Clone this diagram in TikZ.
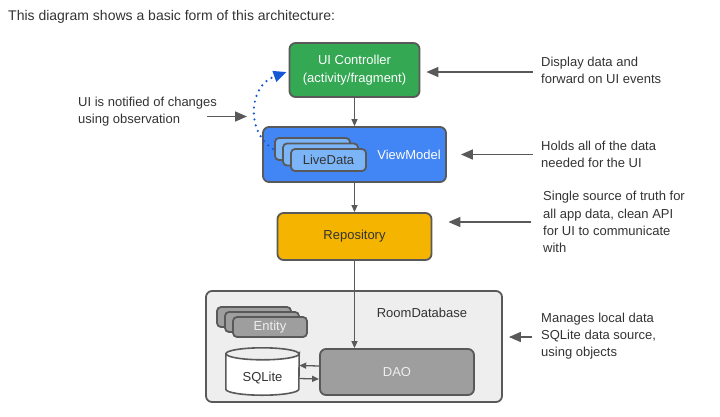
\documentclass[tikz,border=0pt]{standalone}
\usepackage{fontspec}
\setmainfont{Liberation Sans}
\usetikzlibrary{arrows.meta}
\definecolor{uigreen}{HTML}{34A853}
\definecolor{vmblue}{HTML}{4285F4}
\definecolor{ldblue}{HTML}{7BB5F8}
\definecolor{repoyel}{HTML}{F4B400}
\definecolor{boxgray}{HTML}{9E9E9E}
\definecolor{roomfill}{HTML}{EEEEEE}
\definecolor{edge}{HTML}{595959}
\definecolor{txt}{HTML}{333333}
\definecolor{dotblue}{HTML}{1558D6}
\tikzset{
  dfont/.style={font=\fontsize{13}{17.3}\selectfont},
  box/.style={draw=edge, line width=1.8pt, rounded corners=6pt, align=center, dfont},
  small/.style={draw=edge, line width=1.8pt, rounded corners=4pt, dfont},
  note/.style={anchor=west, align=left, inner sep=0pt, text=txt, dfont},
  arr/.style={draw=edge, line width=1.6pt, -{Triangle[length=12pt,width=10pt]}},
  darr/.style={draw=edge, line width=1.3pt, -{Triangle[length=7pt,width=6pt]}},
  sarr/.style={draw=edge, line width=1.3pt, -{Triangle[length=7pt,width=6pt]}},
}
\begin{document}
\begin{tikzpicture}[x=1pt,y=-1pt]
\useasboundingbox (0,0) rectangle (720,416);
% title
\node[anchor=west, inner sep=0pt, text=txt, font=\fontsize{14}{17}\selectfont] (title) at (8,17) {This diagram shows a basic form of this architecture:};
% UI controller
\node[box, fill=uigreen, text=white, minimum width=130pt, minimum height=54pt] (ui) at (354.5,70) {UI Controller\\(activity/fragment)};
% ViewModel
\node[box, fill=vmblue, minimum width=183pt, minimum height=55pt] (vm) at (354.5,154.5) {};
\node[small, fill=ldblue, minimum width=75pt, minimum height=22pt] (ld1) at (312.5,149) {};
\node[small, fill=ldblue, minimum width=75pt, minimum height=22pt] (ld2) at (320.5,154.5) {};
\node[small, fill=ldblue, text=txt, minimum width=75pt, minimum height=22pt] (ld3) at (328.5,160) {LiveData};
\node[text=white, dfont] (vmlabel) at (409,155) {ViewModel};
% Repository
\node[box, fill=repoyel, text=txt, minimum width=154pt, minimum height=47pt] (repo) at (354.5,236.5) {Repository};
% Room
\node[box, fill=roomfill, minimum width=296pt, minimum height=111pt] (room) at (354,346.5) {};
\node[text=txt, dfont] (roomlabel) at (422,313) {RoomDatabase};
\node[small, fill=boxgray, minimum width=74pt, minimum height=20pt] (en1) at (254,317) {};
\node[small, fill=boxgray, minimum width=74pt, minimum height=20pt] (en2) at (262,322) {};
\node[small, fill=boxgray, text=roomfill, minimum width=74pt, minimum height=20pt] (en3) at (270,327) {Entity};
\node[box, fill=boxgray, text=roomfill, minimum width=154pt, minimum height=46pt] (dao) at (397,372) {DAO};
% SQLite cylinder
\node[minimum width=73pt, minimum height=47pt, inner sep=0pt] (sql) at (262.5,371.5) {};
\draw[draw=edge, line width=1.6pt, fill=white]
  ([yshift=-6pt]sql.north west) -- ([yshift=6pt]sql.south west)
  arc[start angle=180, end angle=360, x radius=36.5pt, y radius=6pt]
  -- ([yshift=-6pt]sql.north east)
  arc[start angle=0, end angle=-180, x radius=36.5pt, y radius=6pt] -- cycle;
\draw[draw=edge, line width=1.6pt]
  ([yshift=-6pt]sql.north west) arc[start angle=180, end angle=0, x radius=36.5pt, y radius=6pt];
\node[text=txt, dfont] (sqllabel) at (262.5,378) {SQLite};
% vertical arrows
\draw[darr] (ui.south) -- (vm.north);
\draw[darr] (vm.south) -- (repo.north);
\draw[darr] (repo.south) -- (dao.north -| repo.south);
\draw[sarr] ([yshift=6pt]dao.west) -- ([yshift=6pt]sql.east);
\draw[sarr] ([yshift=-7pt]sql.east) -- ([yshift=-7pt]dao.west);
% notes
\node[note] (t1) at (541,70.5) {Display data and\\forward on UI events};
\node[note] (t2) at (541,154.5) {Holds all of the data\\needed for the UI};
\node[note] (t3) at (543,222) {Single source of truth for\\all app data, clean API\\for UI to communicate\\with};
\node[note] (t4) at (541,336) {Manages local data\\SQLite data source,\\using objects};
\node[note] (tl) at (78,111.5) {UI is notified of changes\\using observation};
\path (ui.east |- t1.west) coordinate (e1)
      (vm.east |- t2.west) coordinate (e2)
      (repo.east |- t3.west) coordinate (e3)
      (room.east |- t4.west) coordinate (e4);
\draw[arr] ([xshift=-8pt,yshift=-1.5pt]t1.west) -- ([xshift=6pt,yshift=-1.5pt]e1);
\draw[arr] ([xshift=-8pt]t2.west) -- ([xshift=14pt]e2);
\draw[arr] ([xshift=-12pt]t3.west) -- ([xshift=16pt]e3);
\draw[arr] ([xshift=-9pt,yshift=-1pt]t4.west) -- ([xshift=6pt,yshift=-1pt]e4);
\coordinate (obs) at (247,116.5);
\draw[arr] ([xshift=-10pt]tl.east |- obs) -- (obs);
% dotted observation arc
\draw[dotblue, line width=2.4pt, dash pattern=on 0pt off 6pt, line cap=round,
  -{Triangle[length=13pt,width=11pt,line cap=butt]}]
  ([xshift=-1pt]ld1.west) .. controls (246,132) and (248,86) .. ([xshift=-2pt,yshift=-2pt]ui.west);
\end{tikzpicture}
\end{document}
